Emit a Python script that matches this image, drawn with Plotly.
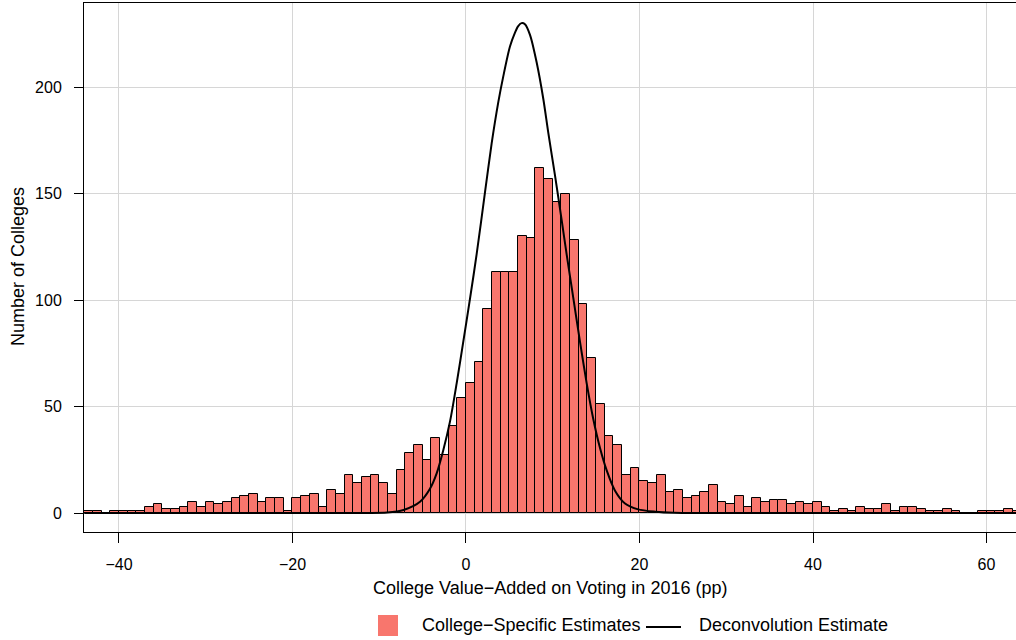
import plotly.graph_objects as go

# ---------------- data ----------------
bin_left = list(range(-44, 64))  # histogram bins of width 1 (pp)
counts = [
    1, 1, 0, 1, 1, 1, 1, 3, 4, 2,      # -44 .. -35
    2, 3, 5, 3, 5, 4, 5, 7, 8, 9,      # -34 .. -25
    5, 7, 7, 1, 7, 8, 9, 3, 11, 9,     # -24 .. -15
    18, 14, 17, 18, 14, 9, 20, 28, 32, 25,   # -14 .. -5
    35, 27, 41, 54, 61, 71, 96, 113, 113, 113,  # -4 .. 5
    130, 129, 162, 157, 146, 150, 128, 98, 73, 51,  # 6 .. 15
    36, 32, 18, 21, 15, 14, 18, 10, 11, 7,   # 16 .. 25
    8, 10, 13, 5, 4, 8, 3, 7, 5, 6,     # 26 .. 35
    6, 4, 5, 4, 5, 3, 1, 2, 1, 3,       # 36 .. 45
    2, 2, 4, 1, 3, 3, 2, 1, 1, 2,       # 46 .. 55
    1, 0, 0, 1, 1, 1, 2, 1,             # 56 .. 63
]

curve_x = [-44, -30, -16, -12, -9.1, -7.2, -5.3, -4.15, -3.38, -2.61, -1.84, -1.07,
           -0.31, 0.46, 1.23, 2.19, 2.96, 3.73, 4.3, 5.07, 5.65, 6.0, 6.4, 6.8,
           7.38, 8.15, 8.91, 9.49, 10.26, 11.03, 11.6, 12.37, 13.14, 13.91, 14.68,
           15.45, 16.22, 17.18, 18.33, 19.86, 21.8, 24, 30, 45, 63.5]
curve_y = [0, 0, 0, 0.05, 0.2, 1.4, 5.3, 11.4, 18.6, 29.6, 43.0, 61.0,
           80.5, 100.5, 121.5, 150.5, 173.5, 193.0, 205.0, 219.0, 225.5, 228.5, 230.0, 229.5,
           224.5, 211.5, 194.5, 178.5, 158.5, 137.5, 121.5, 101.0, 80.5, 61.0, 44.0,
           30.5, 20.0, 10.5, 4.5, 1.7, 0.6, 0.1, 0, 0, 0]

x_ticks = [-40, -20, 0, 20, 40, 60]
y_ticks = [0, 50, 100, 150, 200]

x_title = "College Value\u2212Added on Voting in 2016 (pp)"
y_title = "Number of Colleges"
legend_bar = "College\u2212Specific Estimates"
legend_line = "Deconvolution Estimate"

BAR_COLOR = "#F8766D"
FONT = "Liberation Sans, Arial, sans-serif"

# ---------------- layout geometry ----------------
W, H = 1016, 640
L, R, T, B = 84, 0, 3, 108


def pxx(px):
    return (px - L) / (W - L - R)


def pxy(py):
    return (H - B - py) / (H - T - B)


fig = go.Figure()
fig.add_trace(go.Bar(
    x=[b + 0.5 for b in bin_left], y=counts, width=1,
    marker=dict(color=BAR_COLOR, line=dict(color="black", width=1)),
    name=legend_bar, showlegend=False,
))
fig.add_trace(go.Scatter(
    x=curve_x, y=curve_y, mode="lines",
    line=dict(color="black", width=2, shape="spline", smoothing=0.8),
    name=legend_line, showlegend=False,
))

axis_common = dict(
    showgrid=True, gridcolor="#D6D6D6", gridwidth=1, zeroline=False,
    showline=True, linecolor="black", linewidth=1, mirror=True,
    ticks="outside", tickcolor="black", tickwidth=1,
    tickfont=dict(family=FONT, size=16, color="black"),
)

fig.update_layout(
    width=W, height=H, autosize=False,
    margin=dict(l=L, r=R, t=T, b=B, pad=0),
    paper_bgcolor="white", plot_bgcolor="white",
    font=dict(family=FONT, color="black"),
    bargap=0,
    xaxis=dict(range=[-44.03, 63.40], tickvals=x_ticks, ticklen=10,
               ticklabelstandoff=8, **axis_common),
    yaxis=dict(range=[-8.92, 239.44], tickvals=y_ticks, ticklen=9,
               ticklabelstandoff=9, **axis_common),
    showlegend=False,
)

annotations = [
    dict(text=x_title, x=pxx(550), y=pxy(588), xref="paper", yref="paper",
         xanchor="center", yanchor="middle", showarrow=False,
         font=dict(family=FONT, size=18, color="black")),
    dict(text=y_title, x=pxx(18), y=pxy(267), xref="paper", yref="paper",
         xanchor="center", yanchor="middle", textangle=-90, showarrow=False,
         font=dict(family=FONT, size=18, color="black")),
    dict(text=legend_bar, x=pxx(420), y=pxy(625), xref="paper", yref="paper",
         xanchor="left", yanchor="middle", showarrow=False,
         font=dict(family=FONT, size=18, color="black")),
    dict(text=legend_line, x=pxx(697), y=pxy(625), xref="paper", yref="paper",
         xanchor="left", yanchor="middle", showarrow=False,
         font=dict(family=FONT, size=18, color="black")),
]
shapes = [
    dict(type="rect", xref="paper", yref="paper",
         x0=pxx(378), x1=pxx(398), y0=pxy(615), y1=pxy(636),
         fillcolor=BAR_COLOR, line=dict(width=0)),
    dict(type="line", xref="paper", yref="paper",
         x0=pxx(646), x1=pxx(681), y0=pxy(627), y1=pxy(627),
         line=dict(color="black", width=2)),
]
fig.update_layout(annotations=annotations, shapes=shapes)

fig.write_html("out.html")
